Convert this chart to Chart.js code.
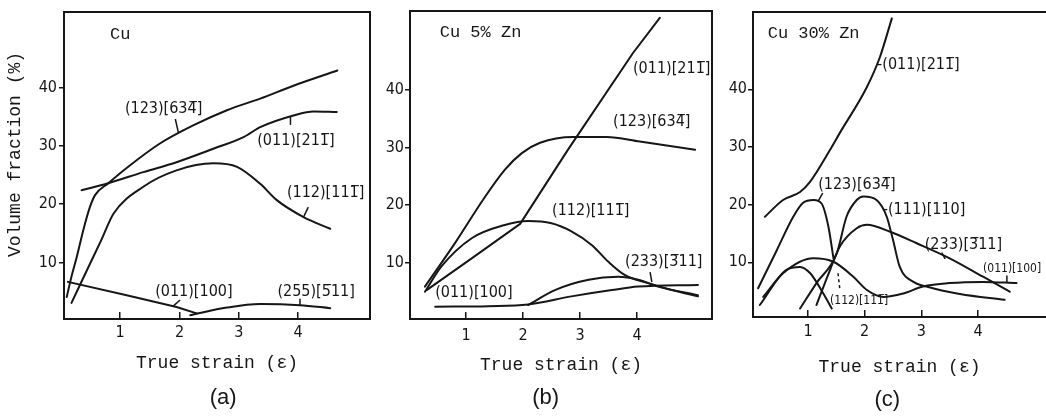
<!DOCTYPE html>
<html>
<head>
<meta charset="utf-8">
<script src="https://cdn.jsdelivr.net/npm/chart.js@4.4.1/dist/chart.umd.min.js"></script>
<style>
  html, body { margin: 0; padding: 0; background: #fff; }
  #wrap { position: relative; width: 1046px; height: 417px; }
  canvas { position: absolute; left: 0; top: 0; }
</style>
</head>
<body>
<div id="wrap">
  <canvas id="chartA" width="1046" height="417"></canvas>
  <canvas id="chartB" width="1046" height="417"></canvas>
  <canvas id="chartC" width="1046" height="417"></canvas>
</div>
<script>
// tick labels
const strainTicks = [1, 2, 3, 4];
const fractionTicks = [10, 20, 30, 40];

// (a) Cu  -- [true strain, volume fraction %]
const aS      = [[0.10,4.1],[0.18,7.6],[0.27,11.0],[0.38,15.6],[0.49,19.5],[0.58,21.6],[0.80,23.6],[1.12,26.3],[1.67,30.4],[2.23,33.5],[2.80,36.1],[3.36,38.1],[3.92,40.3],[4.66,42.9]];
const aBrass  = [[0.35,22.4],[0.80,23.6],[1.39,25.5],[1.95,27.2],[2.57,29.5],[3.08,31.5],[3.36,33.2],[3.92,35.2],[4.26,35.9],[4.65,35.8]];
const aCopper = [[0.18,3.1],[0.44,8.7],[0.68,13.8],[0.89,18.4],[1.39,23.0],[1.95,25.8],[2.57,27.0],[2.97,26.4],[3.36,23.5],[3.64,20.7],[4.09,17.8],[4.54,15.8]];
const aGoss   = [[0.12,6.7],[1.11,4.4],[1.95,2.4],[2.29,1.3]];
const a255    = [[2.18,1.0],[2.80,2.3],[3.36,2.9],[4.03,2.7],[4.54,2.2]];

// (b) Cu 5% Zn
const bS      = [[0.28,5.8],[0.81,13.4],[1.30,20.9],[1.68,26.1],[1.98,29.0],[2.30,30.8],[2.88,31.8],[3.47,31.8],[4.05,31.0],[5.02,29.6]];
const bBrass  = [[0.31,5.2],[1.10,10.7],[1.95,16.7],[2.79,29.6],[3.93,46.4],[4.40,52.5]];
const bCopper = [[0.28,4.9],[0.57,9.3],[1.10,14.2],[1.68,16.5],[2.09,17.2],[2.50,16.8],[2.85,15.4],[3.21,13.0],[3.50,10.1],[3.79,7.8],[4.20,6.4],[4.61,5.2],[5.07,4.1]];
const bGoss   = [[0.46,2.3],[1.39,2.4],[2.09,2.7],[2.85,4.1],[3.56,5.2],[4.02,5.8],[5.07,6.1]];
const b233    = [[2.09,2.6],[2.56,5.2],[3.15,7.0],[3.67,7.5],[4.02,7.0],[4.37,5.8],[5.07,4.3]];

// (c) Cu 30% Zn
const cBrass  = [[0.24,17.9],[0.56,20.8],[0.86,22.2],[1.04,24.0],[1.39,29.5],[1.56,32.4],[2.04,40.4],[2.27,45.6],[2.48,52.3]];
const cS      = [[0.12,5.5],[0.45,12.1],[0.74,17.9],[0.91,20.3],[1.10,20.8],[1.24,20.2],[1.36,16.2],[1.45,10.7]];
const cCopper = [[0.15,2.6],[0.62,8.7],[0.86,9.2],[1.04,8.1],[1.27,4.6],[1.42,2.0]];
const cGoss   = [[0.21,4.0],[0.56,8.1],[1.09,10.7],[1.45,10.1],[1.80,7.5],[2.04,5.2],[2.33,4.0],[2.68,4.6],[3.03,5.8],[3.50,6.4],[4.09,6.6],[4.68,6.4]];
const c111    = [[0.86,2.0],[1.15,6.4],[1.51,11.6],[1.68,17.9],[1.86,20.8],[1.98,21.4],[2.21,20.8],[2.39,17.9],[2.50,13.9],[2.62,9.2],[2.86,6.6],[3.09,5.8],[3.68,4.5],[4.47,3.5]];
const c233    = [[1.15,2.6],[1.39,8.7],[1.56,12.7],[1.86,15.9],[2.04,16.5],[2.45,15.3],[2.92,13.3],[3.50,10.7],[4.09,7.5],[4.56,4.9]];

const INK = '#161616';
const MONO = '"Liberation Mono", "DejaVu Sans Mono", monospace';
const SANS = '"DejaVu Sans Condensed", "DejaVu Sans", sans-serif';
const LBL = '16px ' + SANS;
const LBL_SM = '12px ' + SANS;
const TITLE_FONT = '17px ' + MONO;

// texts on the curves, placed in data units
function notes(labels, leaders) {
  return {
    id: 'notes',
    afterDatasetsDraw(chart) {
      const { ctx, scales: { x, y } } = chart;
      ctx.save();
      ctx.strokeStyle = INK;
      ctx.fillStyle = INK;
      ctx.lineWidth = 1.5;
      leaders.forEach(l => {
        ctx.setLineDash(l.dash ? [3, 3] : []);
        ctx.beginPath();
        ctx.moveTo(x.getPixelForValue(l.from[0]), y.getPixelForValue(l.from[1]));
        ctx.lineTo(x.getPixelForValue(l.to[0]), y.getPixelForValue(l.to[1]));
        ctx.stroke();
      });
      ctx.setLineDash([]);
      ctx.textAlign = 'left';
      ctx.textBaseline = 'middle';
      labels.forEach(t => {
        ctx.font = t.font || LBL;
        ctx.fillText(t.text, x.getPixelForValue(t.at[0]), y.getPixelForValue(t.at[1]));
      });
      ctx.restore();
    }
  };
}

function panel(id, p) {
  const scales = {
    x: {
      type: 'linear', position: 'bottom', min: p.xMin, max: p.xMax,
      afterBuildTicks: s => { s.ticks = strainTicks.map(v => ({ value: v })); },
      afterFit: s => { s.height = p.xH; },
      grid: { drawOnChartArea: false, tickLength: -7, color: INK, lineWidth: 1.5 },
      border: { color: INK, width: 2 },
      ticks: { padding: p.xTickPad, color: INK, font: { family: SANS, size: 16 }, maxRotation: 0, autoSkip: false },
      title: { display: true, text: 'True strain (\u03b5)', color: INK,
               font: { family: MONO, size: 18 }, padding: { top: 0, bottom: p.xTitlePad } }
    },
    y: {
      type: 'linear', position: 'left', min: p.yMin, max: p.yMax,
      afterBuildTicks: s => { s.ticks = fractionTicks.map(v => ({ value: v })); },
      afterFit: s => { s.width = p.yW; },
      grid: { drawOnChartArea: false, tickLength: 5, color: INK, lineWidth: 1.5 },
      border: { color: INK, width: 2 },
      ticks: { padding: p.yTickPad, color: INK, font: { family: SANS, size: 16 } },
      title: { display: !!p.yTitle, text: p.yTitle || '', color: INK,
               font: { family: MONO, size: 18 }, padding: { top: 4, bottom: 0 } }
    },
    x2: {
      type: 'linear', position: 'top',
      afterFit: s => { s.height = 0; },
      grid: { display: false, drawTicks: false },
      ticks: { display: false },
      border: { color: INK, width: 2 }
    }
  };
  if (p.rightBorder) {
    scales.y2 = {
      type: 'linear', position: 'right',
      afterFit: s => { s.width = 0; },
      grid: { display: false, drawTicks: false },
      ticks: { display: false },
      border: { color: INK, width: 2 }
    };
  }
  return new Chart(document.getElementById(id), {
    type: 'line',
    data: {
      datasets: p.series.map(s => ({
        data: s.pts.map(([x, y]) => ({ x, y })),
        xAxisID: 'x', yAxisID: 'y',
        borderColor: INK, borderWidth: 2, pointRadius: 0, fill: false,
        borderJoinStyle: 'round', borderCapStyle: 'round',
        tension: 0,
        cubicInterpolationMode: s.straight ? 'default' : 'monotone'
      }))
    },
    options: {
      responsive: false,
      animation: false,
      events: [],
      layout: { padding: p.pad },
      plugins: {
        legend: { display: false },
        tooltip: { enabled: false },
        title: {
          display: true, position: 'bottom', fullSize: false, text: p.letter, padding: 0, color: INK,
          font: { family: '"Liberation Sans", sans-serif', size: 22, weight: 'normal', lineHeight: '24px' }
        }
      },
      scales
    },
    plugins: [notes(p.labels, p.leaders)]
  });
}

panel('chartA', {
  pad: { left: 0, right: 676, top: 11, bottom: 7 },
  xMin: 0.054, xMax: 5.21, yMin: 0.34, yMax: 53.0,
  xH: 67, yW: 64, xTickPad: 11, xTitlePad: 11.7, yTickPad: 2,
  yTitle: '  Volume fraction (%)', letter: '  (a)', rightBorder: true,
  series: [
    { pts: aS }, { pts: aBrass }, { pts: aCopper },
    { pts: aGoss, straight: true }, { pts: a255 }
  ],
  labels: [
    { text: 'Cu', at: [0.83, 49.1], font: TITLE_FONT },
    { text: '(123)[634\u0305]', at: [1.08, 36.4] },
    { text: '(011)[211\u0305]', at: [3.31, 30.9] },
    { text: '(112)[111\u0305]', at: [3.81, 21.9] },
    { text: '(011)[100]', at: [1.59, 5.0] },
    { text: '(255)[5\u030511]', at: [3.65, 5.0] }
  ],
  leaders: [
    { from: [1.93, 34.6], to: [1.98, 32.3] },
    { from: [3.87, 35.0], to: [3.87, 33.6] },
    { from: [4.09, 17.8], to: [4.17, 19.5] },
    { from: [1.89, 2.5], to: [2.01, 3.6] },
    { from: [4.03, 2.7], to: [4.03, 3.8] }
  ]
});

panel('chartB', {
  pad: { left: 370, right: 334, top: 11, bottom: 7 },
  xMin: 0.018, xMax: 5.316, yMin: 0.17, yMax: 53.7,
  xH: 67, yW: 40, xTickPad: 14, xTitlePad: 10.2, yTickPad: 1,
  letter: '(b)     ', rightBorder: true,
  series: [
    { pts: bS }, { pts: bBrass, straight: true }, { pts: bCopper },
    { pts: bGoss }, { pts: b233 }
  ],
  labels: [
    { text: 'Cu 5% Zn', at: [0.54, 49.9], font: TITLE_FONT },
    { text: '(011)[211\u0305]', at: [3.93, 43.7] },
    { text: '(123)[634\u0305]', at: [3.58, 34.4] },
    { text: '(112)[111\u0305]', at: [2.51, 19.0] },
    { text: '(233)[3\u030511]', at: [3.79, 10.1] },
    { text: '(011)[100]', at: [0.46, 4.7] }
  ],
  leaders: [
    { from: [4.23, 8.3], to: [4.26, 6.6] }
  ]
});

panel('chartC', {
  pad: { left: 712, right: 0, top: 12, bottom: 5 },
  xMin: 0.03, xMax: 5.20, yMin: 0.52, yMax: 53.4,
  xH: 71, yW: 41, xTickPad: 12, xTitlePad: 10.2, yTickPad: 1,
  letter: '(c)    ', rightBorder: false,
  series: [
    { pts: cBrass }, { pts: cS }, { pts: cCopper },
    { pts: cGoss }, { pts: c111 }, { pts: c233 }
  ],
  labels: [
    { text: 'Cu 30% Zn', at: [0.29, 49.7], font: TITLE_FONT },
    { text: '-(011)[211\u0305]', at: [2.22, 44.2] },
    { text: '(123)[634\u0305]', at: [1.18, 23.4] },
    { text: '-(111)[110]', at: [2.32, 19.1] },
    { text: '(233)[3\u030511]', at: [3.06, 13.0] },
    { text: '(011)[100]', at: [4.09, 8.8], font: LBL_SM },
    { text: '(112)[111\u0305]', at: [1.39, 3.3], font: LBL_SM }
  ],
  leaders: [
    { from: [1.26, 22.0], to: [1.18, 20.6] },
    { from: [3.36, 11.7], to: [3.42, 10.6] },
    { from: [4.51, 7.7], to: [4.51, 6.5] },
    { from: [1.53, 8.1], to: [1.56, 5.5], dash: true }
  ]
});
</script>
</body>
</html>
